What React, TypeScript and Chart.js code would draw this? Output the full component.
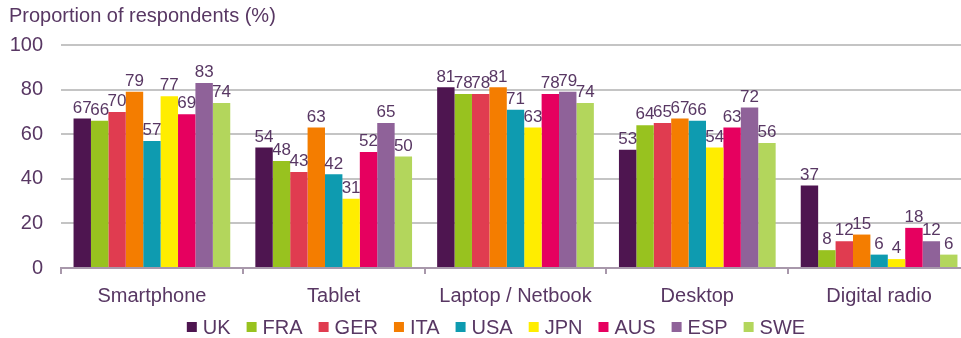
import React, { useEffect, useRef } from "react";
import { Chart, registerables } from "chart.js";

Chart.register(...registerables);

const categories = ["Smartphone", "Tablet", "Laptop / Netbook", "Desktop", "Digital radio"];
const seriesNames = ["UK", "FRA", "GER", "ITA", "USA", "JPN", "AUS", "ESP", "SWE"];
const UK = [67, 54, 81, 53, 37];
const FRA = [66, 48, 78, 64, 8];
const GER = [70, 43, 78, 65, 12];
const ITA = [79, 63, 81, 67, 15];
const USA = [57, 42, 71, 66, 6];
const JPN = [77, 31, 63, 54, 4];
const AUS = [69, 52, 78, 63, 18];
const ESP = [83, 65, 79, 72, 12];
const SWE = [74, 50, 74, 56, 6];
const seriesValues = [UK, FRA, GER, ITA, USA, JPN, AUS, ESP, SWE];
const seriesColors = ["#4e1550", "#98c21f", "#e03c50", "#f47d00", "#0e9bb0", "#ffed00", "#e6005f", "#8f6299", "#b3d65c"];
const yTicks = [0, 20, 40, 60, 80, 100];
const titleText = "Proportion of respondents (%)";

const TEXT = "#583763";
const FONT = "'Liberation Sans', Arial, sans-serif";

const labelPlugin = {
  id: "barLabels",
  afterDatasetsDraw(chart: any) {
    const ctx = chart.ctx;
    ctx.save();
    ctx.font = `17px ${FONT}`;
    ctx.fillStyle = TEXT;
    ctx.textAlign = "center";
    ctx.textBaseline = "bottom";
    chart.data.datasets.forEach((ds: any, i: number) => {
      const meta = chart.getDatasetMeta(i);
      meta.data.forEach((bar: any, j: number) => {
        ctx.fillText(String(ds.data[j]), bar.x, bar.y - 2);
      });
    });
    ctx.restore();
  },
};

const titlePlugin = {
  id: "topTitle",
  afterDraw(chart: any) {
    const ctx = chart.ctx;
    ctx.save();
    ctx.font = `20px ${FONT}`;
    ctx.fillStyle = TEXT;
    ctx.textAlign = "left";
    ctx.textBaseline = "middle";
    ctx.fillText(titleText, 9, 16);
    ctx.restore();
  },
};

const legendPlugin = {
  id: "customLegend",
  afterDraw(chart: any) {
    const ctx = chart.ctx;
    ctx.save();
    ctx.font = `20px ${FONT}`;
    ctx.textBaseline = "middle";
    ctx.textAlign = "left";
    const box = 10;
    const gapText = 6;
    const gapItem = 16;
    const items = chart.data.datasets.map((ds: any) => ({
      label: ds.label,
      color: ds.backgroundColor,
      w: box + gapText + ctx.measureText(ds.label).width,
    }));
    const total = items.reduce((a: number, it: any) => a + it.w, 0) + gapItem * (items.length - 1);
    let x = 496 - total / 2;
    const y = 327;
    items.forEach((it: any) => {
      ctx.fillStyle = it.color;
      ctx.fillRect(x, y - box / 2, box, box);
      ctx.fillStyle = TEXT;
      ctx.fillText(it.label, x + box + gapText, y + 1);
      x += it.w + gapItem;
    });
    ctx.restore();
  },
};

export default function App() {
  const ref = useRef<HTMLCanvasElement>(null);
  useEffect(() => {
    document.body.style.margin = "0";
    const chart = new Chart(ref.current!, {
      type: "bar",
      data: {
        labels: categories,
        datasets: seriesNames.map((n, i) => ({
          label: n,
          data: seriesValues[i],
          backgroundColor: seriesColors[i],
          borderWidth: 0,
          categoryPercentage: 0.862,
          barPercentage: 1.0,
        })),
      },
      options: {
        responsive: false,
        animation: false,
        layout: { padding: { top: 45, left: 0, right: 0, bottom: 30 } },
        plugins: {
          legend: { display: false },
          tooltip: { enabled: false },
        },
        scales: {
          x: {
            grid: { display: true, offset: true, drawOnChartArea: false, drawTicks: true, tickLength: 6, color: "#a898ab", lineWidth: 2 },
            border: { display: true, color: "#a898ab", width: 2 },
            ticks: { color: TEXT, font: { size: 20, family: FONT }, padding: 10, maxRotation: 0 },
            afterFit: (s: any) => { s.height = 40; },
          },
          y: {
            min: 0,
            max: 100,
            afterBuildTicks: (s: any) => { s.ticks = yTicks.map((v) => ({ value: v })); },
            grid: { color: "#c4c4c4", lineWidth: 2, drawTicks: false },
            border: { display: false },
            ticks: { color: TEXT, font: { size: 20, family: FONT }, padding: 18 },
            afterFit: (s: any) => { s.width = 61; },
          },
        },
      },
      plugins: [labelPlugin, titlePlugin, legendPlugin],
    });
    return () => chart.destroy();
  }, []);
  return (
    <div style={{ position: "fixed", left: 0, top: 0, width: 961, height: 338, overflow: "hidden" }}>
      <canvas ref={ref} width={970} height={338} style={{ display: "block" }} />
    </div>
  );
}
